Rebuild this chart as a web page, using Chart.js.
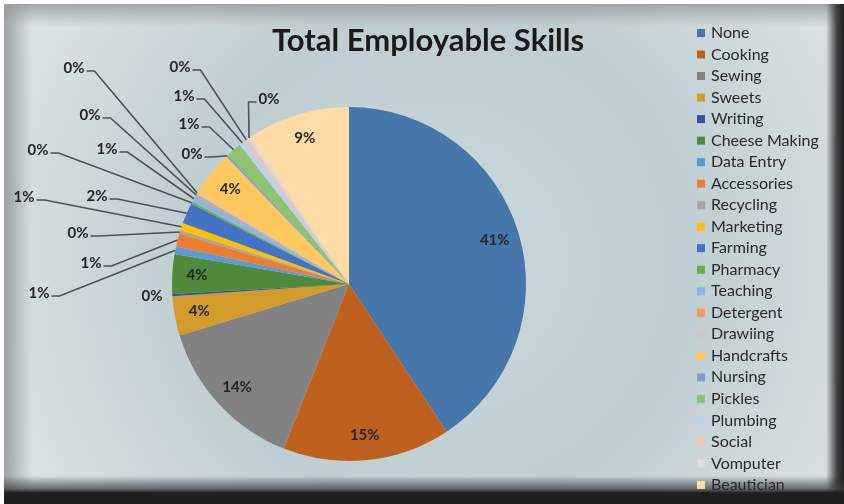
<!DOCTYPE html>
<html>
<head>
<meta charset="utf-8">
<title>Total Employable Skills</title>
<script src="https://cdn.jsdelivr.net/npm/chart.js@4.4.1/dist/chart.umd.min.js"></script>
<style>
  html, body { margin: 0; padding: 0; background: #ffffff; }
  #wrap { position: relative; width: 844px; height: 504px; }
</style>
</head>
<body>
<div id="wrap"><canvas id="skills" width="844" height="504"></canvas></div>
<script>
const chartTitle = 'Total Employable Skills';

const skills = [
  'None', 'Cooking', 'Sewing', 'Sweets', 'Writing', 'Cheese Making',
  'Data Entry', 'Accessories', 'Recycling', 'Marketing', 'Farming',
  'Pharmacy', 'Teaching', 'Detergent', 'Drawiing', 'Handcrafts',
  'Nursing', 'Pickles', 'Plumbing', 'Social', 'Vomputer', 'Beautician'
];

// share of respondents per skill, in percent
const shares = [
  40.7, 15.3, 14.3, 3.6, 0.2, 3.6,
  0.7, 1.2, 0.3, 0.7, 1.9,
  0.2, 0.6, 0.2, 0.2, 4.1,
  0.2, 1.4, 0.6, 0.3, 0.3, 9.4
];

const sliceColors = [
  '#4577aa', '#c0601f', '#828282', '#d29b2a', '#2f55a4', '#4e8a3a',
  '#5b9bd5', '#ed7d31', '#a5a5a5', '#ffc000', '#4472c4',
  '#70ad47', '#8db6e2', '#f39a6b', '#c9c9c9', '#ffc85e',
  '#7f9ed8', '#8ec46e', '#bdd0ee', '#f8c3a8', '#dbdbdb', '#ffdba6'
];

// pie placement
const pieX = 349, pieY = 284, pieR = 177;

// where the small-slice labels sit, relative to the pie centre (null = inside)
const calloutSpots = [
  null, null, null, null, [-197, 12], null,
  [-310, 9], [-258, -21], [-271, -51], [-325, -87], [-252, -88],
  [-311, -134], [-242, -135], [-259, -169], [-275, -216], null,
  [-157, -130], [-160, -160], [-165, -188], [-169, -217], [-80, -185], null
];

const labelFont = 'bold 15px Lato, "Liberation Sans", sans-serif';

const panelPlugin = {
  id: 'panel',
  beforeDraw(chart) {
    const ctx = chart.ctx, w = chart.width, h = chart.height;
    ctx.save();
    ctx.fillStyle = '#ffffff';
    ctx.fillRect(0, 0, w, h);
    const g = ctx.createRadialGradient(440, 260, 30, 440, 260, 520);
    g.addColorStop(0, '#cad7da');
    g.addColorStop(0.45, '#bfced2');
    g.addColorStop(1, '#e0e7e8');
    ctx.fillStyle = g;
    ctx.fillRect(4, 4, w - 4, h - 4);

    let b = ctx.createLinearGradient(0, 4, 0, 26);
    b.addColorStop(0, 'rgba(160,163,163,0.95)');
    b.addColorStop(1, 'rgba(160,163,163,0)');
    ctx.fillStyle = b;
    ctx.fillRect(4, 4, w - 4, 22);

    b = ctx.createLinearGradient(4, 0, 32, 0);
    b.addColorStop(0, 'rgba(150,154,156,0.9)');
    b.addColorStop(1, 'rgba(150,154,156,0)');
    ctx.fillStyle = b;
    ctx.fillRect(4, 4, 28, h - 4);

    b = ctx.createLinearGradient(826, 0, 844, 0);
    b.addColorStop(0, 'rgba(40,42,42,0)');
    b.addColorStop(0.6, 'rgba(40,42,42,0.85)');
    b.addColorStop(1, 'rgba(30,32,32,1)');
    ctx.fillStyle = b;
    ctx.fillRect(826, 4, 18, h - 4);

    b = ctx.createLinearGradient(0, 476, 0, 504);
    b.addColorStop(0, 'rgba(30,32,32,0)');
    b.addColorStop(0.45, 'rgba(60,62,62,0.7)');
    b.addColorStop(0.6, 'rgba(30,32,32,1)');
    b.addColorStop(1, 'rgba(28,30,30,1)');
    ctx.fillStyle = b;
    ctx.fillRect(4, 476, w - 4, 28);
    ctx.restore();
  }
};

const calloutPlugin = {
  id: 'callouts',
  afterDatasetsDraw(chart) {
    const ctx = chart.ctx;
    const values = chart.data.datasets[0].data;
    const total = values.reduce((a, v) => a + v, 0);
    const arcs = chart.getDatasetMeta(0).data;
    ctx.save();
    ctx.font = labelFont;
    ctx.fillStyle = '#262626';
    ctx.textAlign = 'center';
    ctx.textBaseline = 'middle';
    arcs.forEach((arc, i) => {
      const p = arc.getProps(['x', 'y', 'startAngle', 'endAngle', 'outerRadius'], true);
      const mid = (p.startAngle + p.endAngle) / 2;
      const text = Math.round(values[i] / total * 100) + '%';
      const spot = calloutSpots[i];
      if (!spot) {
        const r = p.outerRadius * 0.86;
        ctx.fillText(text, p.x + Math.cos(mid) * r, p.y + Math.sin(mid) * r);
        return;
      }
      const lx = p.x + spot[0], ly = p.y + spot[1];
      ctx.fillText(text, lx, ly);
      const ax = p.x + Math.cos(mid) * p.outerRadius;
      const ay = p.y + Math.sin(mid) * p.outerRadius;
      const half = ctx.measureText(text).width / 2 + 2;
      const dir = ax < lx ? -1 : 1;
      const sx = lx + dir * half;
      if (Math.hypot(ax - sx, ay - ly) < 14) return;
      ctx.beginPath();
      ctx.moveTo(sx, ly + 3);
      ctx.lineTo(sx + dir * 8, ly + 3);
      ctx.lineTo(ax, ay);
      ctx.strokeStyle = '#4d5254';
      ctx.lineWidth = 1.6;
      ctx.stroke();
    });
    ctx.restore();
  }
};

const sideLegend = {
  id: 'sideLegend',
  afterDraw(chart) {
    const ctx = chart.ctx;
    const colors = chart.data.datasets[0].backgroundColor;
    ctx.save();
    ctx.font = '16px Lato, "Liberation Sans", sans-serif';
    ctx.textAlign = 'left';
    ctx.textBaseline = 'middle';
    chart.data.labels.forEach((name, i) => {
      const y = 33 + i * 21.52;
      ctx.fillStyle = colors[i];
      ctx.fillRect(697, y - 4, 8, 8);
      ctx.fillStyle = '#2a2a2a';
      ctx.fillText(name, 711, y);
    });
    ctx.font = 'bold 31px Lato, "Liberation Sans", sans-serif';
    ctx.textAlign = 'center';
    ctx.fillStyle = '#1a1a1a';
    ctx.fillText(chartTitle, 428, 41);
    ctx.restore();
  }
};

new Chart(document.getElementById('skills'), {
  type: 'pie',
  data: {
    labels: skills,
    datasets: [{
      data: shares,
      backgroundColor: sliceColors,
      borderWidth: 0,
      hoverOffset: 0
    }]
  },
  options: {
    responsive: false,
    animation: false,
    layout: {
      padding: {
        left: pieX - pieR,
        right: 844 - pieX - pieR,
        top: pieY - pieR,
        bottom: 504 - pieY - pieR
      }
    },
    plugins: {
      legend: { display: false },
      title: { display: false },
      tooltip: { enabled: false }
    }
  },
  plugins: [panelPlugin, calloutPlugin, sideLegend]
});
</script>
</body>
</html>
